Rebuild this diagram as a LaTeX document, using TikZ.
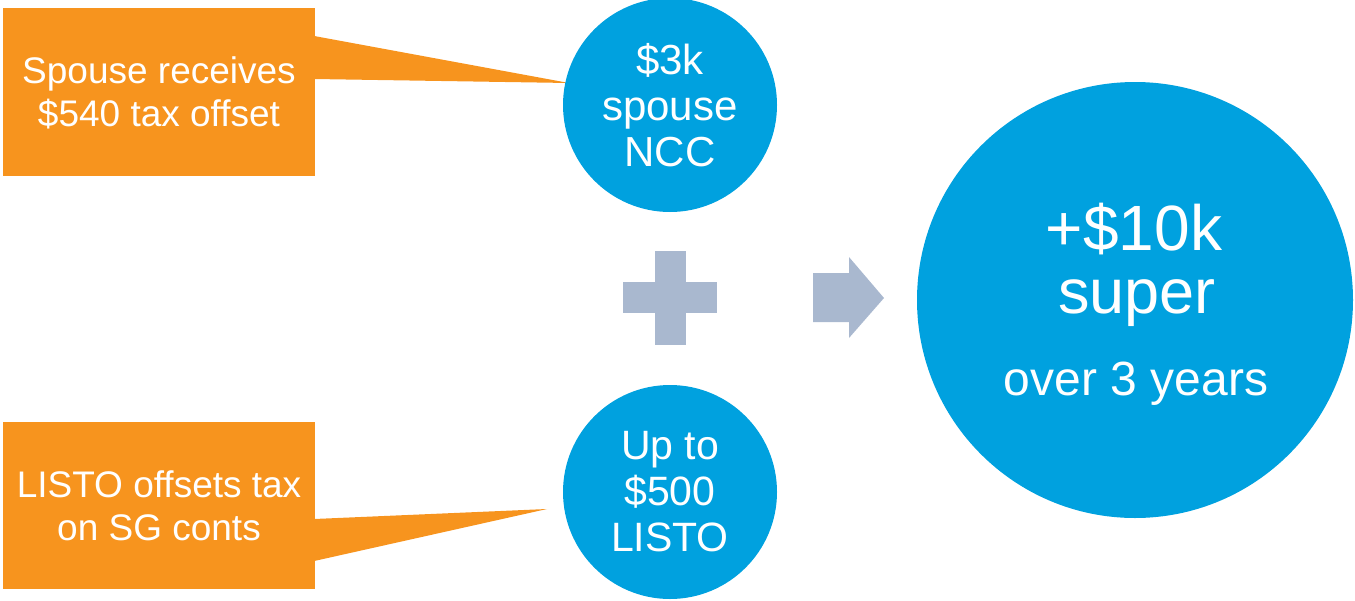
\documentclass[tikz,border=0pt]{standalone}
\usepackage{fontspec}
\setmainfont{Liberation Sans}
\usetikzlibrary{calc}
\definecolor{calloutorange}{RGB}{247,148,30}
\definecolor{bubbleblue}{RGB}{0,161,223}
\definecolor{signgrey}{RGB}{169,184,207}
\begin{document}
\begin{tikzpicture}[x=1pt,y=-1pt,
  callout/.style={fill=calloutorange, minimum width=312pt, minimum height=168pt,
    inner sep=0pt, text=white, align=center, font=\fontsize{37}{43}\selectfont},
  bubble/.style={circle, fill=bubbleblue, inner sep=0pt, text=white, align=center},
  sign/.style={fill=signgrey}]
\useasboundingbox (0,0) rectangle (1355,600);

% orange callout boxes
\node[callout, text depth=0pt] (spouse) at (159,92) {Spouse receives\\\$540 tax offset};
\node[callout, minimum height=167pt] (listo) at (159,505.5) {LISTO offsets tax\\on SG conts};

% callout pointers
\coordinate (spousetip) at (569,83);
\coordinate (listotip) at (547,509);
\fill[calloutorange] ($(spouse.east)+(-1,-56)$) -- (spousetip) -- ($(spouse.east)+(-1,-13)$) -- cycle;
\fill[calloutorange] ($(listo.east)+(-1,13.5)$) -- (listotip) -- ($(listo.east)+(-1,55.5)$) -- cycle;

% blue bubbles
\node[bubble, minimum size=214pt, font=\fontsize{42}{46}\selectfont] (ncc) at (670,105) {\$3k\\spouse\\NCC};
\node[bubble, minimum size=214pt, font=\fontsize{41}{46}\selectfont] (lim) at (670,492) {Up to\\\$500\\LISTO};
\node[bubble, minimum size=436pt] (total) at (1135,300) {};
\node[text=white, anchor=base, font=\fontsize{64}{64}\selectfont] (gain) at (1134,250) {+\$10k};
\node[text=white, anchor=base, font=\fontsize{63}{63}\selectfont] (super) at (1137,313) {super};
\node[text=white, anchor=base, font=\fontsize{48}{48}\selectfont] (years) at (1136,395) {over 3 years};

% plus sign
\fill[sign] (655,251) rectangle (686,345);
\fill[sign] (623,282) rectangle (717,313);

% block arrow
\fill[sign] (813,273) -- (849,273) -- (849,257) -- (884,298) -- (849,338) -- (849,322) -- (813,322) -- cycle;
\end{tikzpicture}
\end{document}
